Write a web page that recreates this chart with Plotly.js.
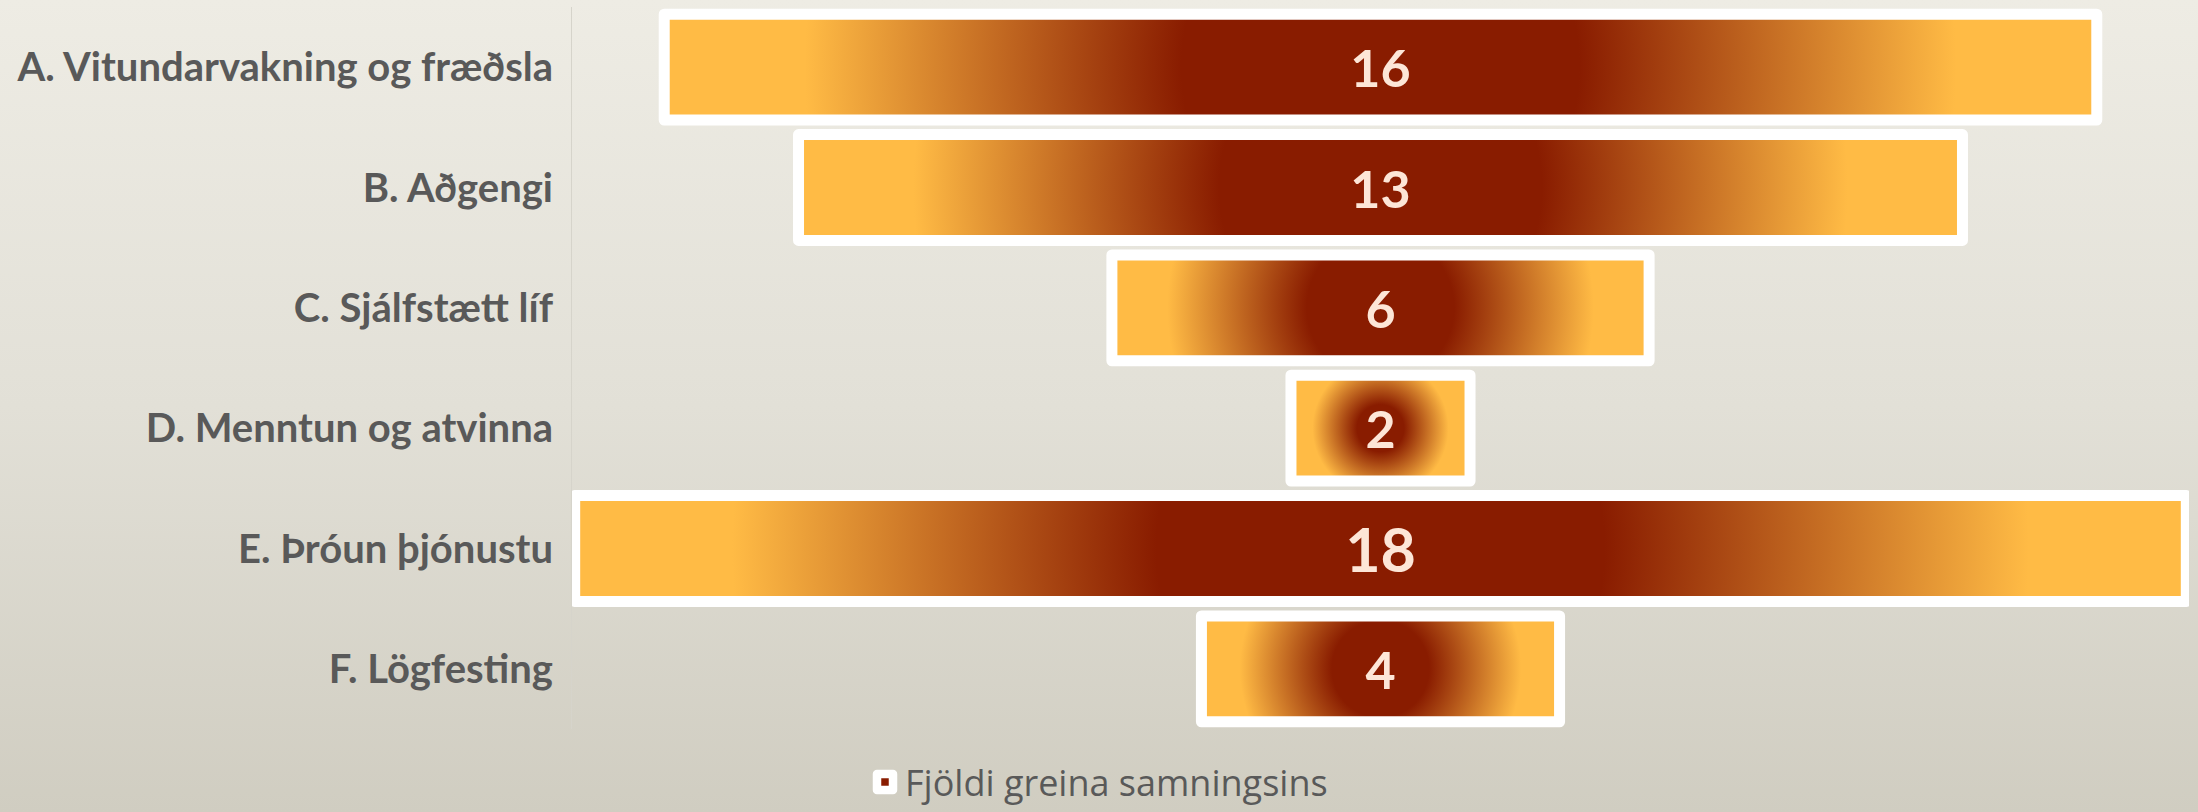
<!DOCTYPE html>
<html>
<head>
<meta charset="utf-8">
<script src="https://cdn.plot.ly/plotly-3.0.1.min.js"></script>
<style>
  html, body { margin: 0; padding: 0; }
  body { width: 2198px; height: 812px; background: linear-gradient(to bottom, #eeece4 0%, #e2e0d7 50%, #d0cdc1 100%); overflow: hidden; }
  #chart { width: 2198px; height: 812px; }
</style>
</head>
<body>
<div id="chart"></div>
<script>
// ---- data ----
const categories = [
  "A. Vitundarvakning og fræðsla",
  "B. Aðgengi",
  "C. Sjálfstætt líf",
  "D. Menntun og atvinna",
  "E. Þróun þjónustu",
  "F. Lögfesting"
];
const values = [16, 13, 6, 2, 18, 4];
const seriesName = "Fjöldi greina samningsins";

// ---- styles ----
const DARK = "#891c00";
const ORANGE = "#ffbb45";
const BORDER_W = 11;
const labelSizes = [52, 52, 52, 52, 61, 52];

const gd = document.getElementById("chart");

const data = [{
  type: "funnel",
  orientation: "h",
  name: seriesName,
  y: categories,
  x: values,
  textinfo: "value",
  textposition: "inside",
  insidetextanchor: "middle",
  constraintext: "none",
  cliponaxis: false,
  textfont: { family: "Lato, 'Open Sans', sans-serif", weight: 700, size: labelSizes, color: "#fde6d7" },
  marker: { color: DARK, line: { color: "#ffffff", width: BORDER_W } },
  connector: { visible: false },
  showlegend: true,
  hoverinfo: "skip"
}];

const layout = {
  width: 2198,
  height: 812,
  margin: { l: 572, r: 9, t: 7, b: 83, pad: 0 },
  paper_bgcolor: "rgba(0,0,0,0)",
  plot_bgcolor: "rgba(0,0,0,0)",
  funnelgap: 0.12,
  showlegend: true,
  legend: {
    orientation: "h",
    xref: "container", yref: "container",
    x: 0.5, xanchor: "center",
    y: 0.0, yanchor: "bottom",
    font: { family: "'Open Sans', sans-serif", size: 36, color: "#595959" },
    bgcolor: "rgba(0,0,0,0)"
  },
  xaxis: { visible: false, range: [-9.03, 9.03], fixedrange: true, zeroline: false, showgrid: false },
  yaxis: {
    type: "category",
    autorange: "reversed",
    showline: true, linecolor: "#d6d4cb", linewidth: 1,
    showgrid: false, zeroline: false, ticks: "",
    ticklabelstandoff: 10,
    tickfont: { family: "Lato, 'Open Sans', sans-serif", weight: 700, size: 40, color: "#595959" },
    fixedrange: true
  },
  hovermode: false
};

function applyGradients() {
  const svg = gd.querySelector("svg.main-svg");
  const defs = svg.querySelector("defs");
  const NS = "http://www.w3.org/2000/svg";
  const paths = gd.querySelectorAll(".cartesianlayer g.point > path");
  paths.forEach(function (p, i) {
    const bb = p.getBBox();
    const r = bb.width / 2 - BORDER_W / 2;
    const g = document.createElementNS(NS, "radialGradient");
    g.setAttribute("id", "barGrad" + i);
    g.setAttribute("gradientUnits", "userSpaceOnUse");
    g.setAttribute("cx", bb.x + bb.width / 2);
    g.setAttribute("cy", bb.y + bb.height / 2);
    g.setAttribute("r", r);
    [[0, DARK], [0.28, DARK], [0.81, ORANGE], [1, ORANGE]].forEach(function (s) {
      const st = document.createElementNS(NS, "stop");
      st.setAttribute("offset", s[0]);
      st.setAttribute("stop-color", s[1]);
      g.appendChild(st);
    });
    defs.appendChild(g);
    p.style.fill = "url(#barGrad" + i + ")";
    p.style.strokeLinejoin = "round";
  });
  // legend swatch: white rounded box with small dark square
  gd.querySelectorAll(".legend .legendpoints path").forEach(function (p) {
    p.setAttribute("d", "M8,8H-8V-8H8Z");
    p.style.strokeWidth = "8.5px";
    p.style.stroke = "#ffffff";
    p.style.fill = DARK;
    p.style.strokeLinejoin = "round";
  });
}

Plotly.newPlot(gd, data, layout, { displayModeBar: false, staticPlot: true }).then(applyGradients);
</script>
</body>
</html>
